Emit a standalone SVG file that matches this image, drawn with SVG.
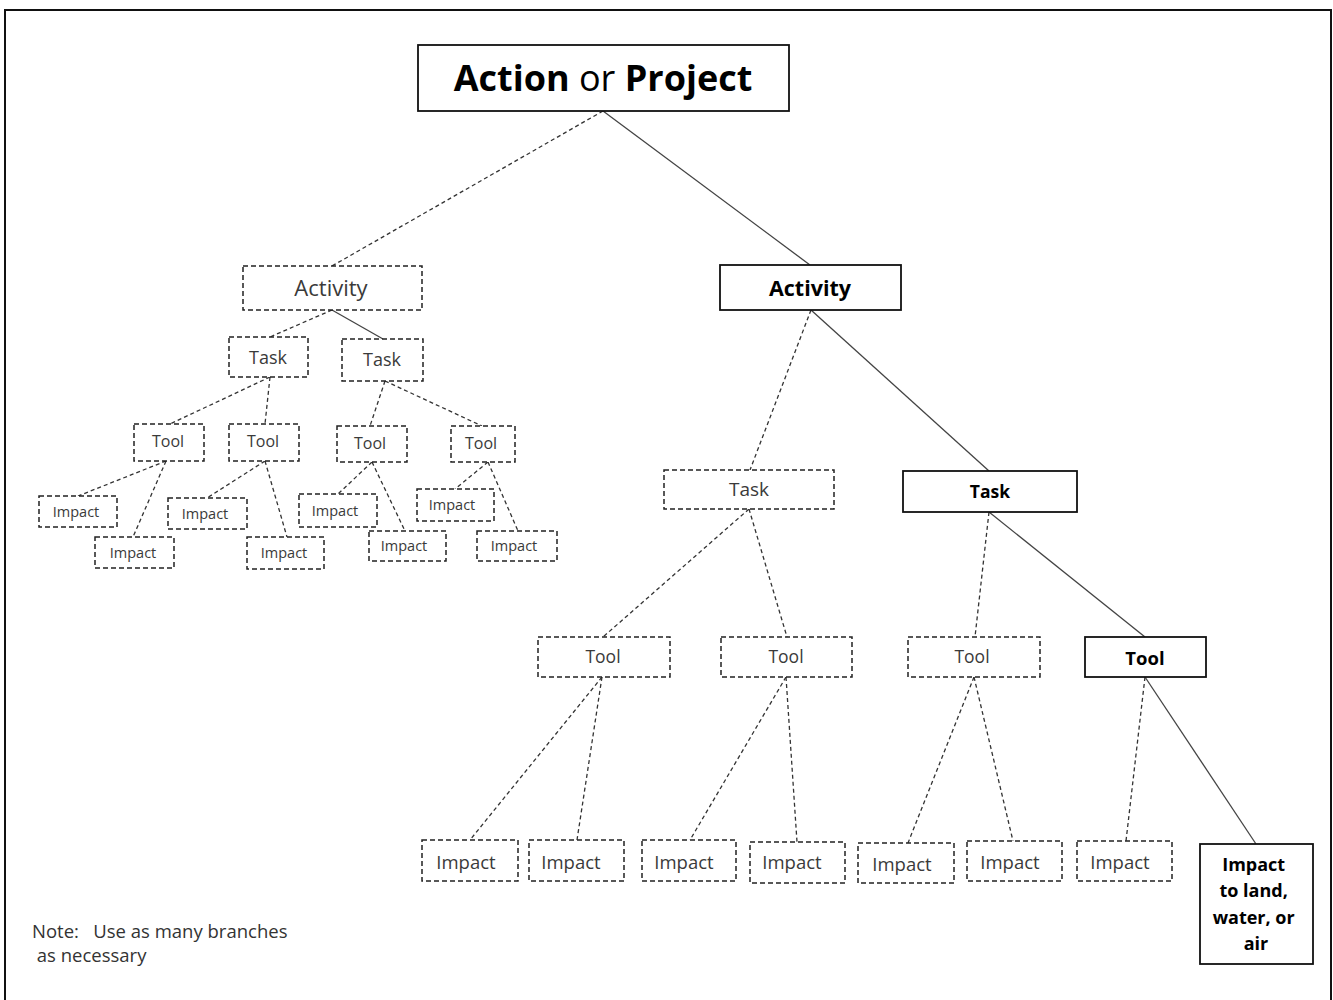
<svg xmlns="http://www.w3.org/2000/svg" width="1333" height="1000" viewBox="0 0 1333 1000">
  <style>
    text { font-family: "Open Sans", "Noto Sans", "Liberation Sans", sans-serif; text-anchor: middle; dominant-baseline: central; }
    .solid { fill: #fff; stroke: #111; stroke-width: 1.8; }
    .dash { fill: #fff; stroke: #222; stroke-width: 1.5; stroke-dasharray: 5 3; }
    .t { fill: #3a3a3a; }
    .b { fill: #000; font-weight: bold; }
    .cd { stroke: #333; stroke-width: 1.3; stroke-dasharray: 4 3; fill: none; }
    .cs { stroke: #444; stroke-width: 1.3; fill: none; }
    .sm { font-size: 14.5px; }
    .md { font-size: 16px; }
    .lg { font-size: 18.5px; }
    .note { fill: #333; font-size: 18.5px; text-anchor: start; dominant-baseline: alphabetic; }
  </style>

  <rect width="1333" height="1000" fill="#fff"/>
  <!-- page frame, open at the bottom -->
  <rect x="5" y="10" width="1326" height="1010" fill="none" stroke="#111" stroke-width="2"/>

  <!-- connectors -->
  <g id="connectors">
    <line class="cd" x1="603" y1="111" x2="332" y2="266"/>
    <line class="cs" x1="603" y1="111" x2="810" y2="265"/>

    <line class="cd" x1="332" y1="310" x2="270" y2="337"/>
    <line class="cs" x1="332" y1="310" x2="383" y2="339"/>
    <line class="cd" x1="270" y1="377" x2="170" y2="424"/>
    <line class="cd" x1="270" y1="377" x2="265" y2="424"/>
    <line class="cd" x1="166" y1="461" x2="78" y2="496"/>
    <line class="cd" x1="166" y1="461" x2="133" y2="537"/>
    <line class="cd" x1="265" y1="461" x2="207" y2="498"/>
    <line class="cd" x1="265" y1="461" x2="287" y2="537"/>
    <line class="cd" x1="385" y1="381" x2="370" y2="426"/>
    <line class="cd" x1="385" y1="381" x2="482" y2="426"/>
    <line class="cd" x1="372" y1="462" x2="338" y2="494"/>
    <line class="cd" x1="372" y1="462" x2="405" y2="531"/>
    <line class="cd" x1="488" y1="462" x2="455" y2="489"/>
    <line class="cd" x1="488" y1="462" x2="518" y2="531"/>

    <line class="cd" x1="811" y1="310" x2="750" y2="470"/>
    <line class="cs" x1="811" y1="310" x2="989" y2="471"/>
    <line class="cd" x1="749" y1="509" x2="603" y2="637"/>
    <line class="cd" x1="749" y1="509" x2="787" y2="637"/>
    <line class="cd" x1="602" y1="677" x2="470" y2="840"/>
    <line class="cd" x1="602" y1="677" x2="577" y2="840"/>
    <line class="cd" x1="786" y1="677" x2="690" y2="840"/>
    <line class="cd" x1="786" y1="677" x2="797" y2="842"/>
    <line class="cd" x1="989" y1="512" x2="975" y2="637"/>
    <line class="cs" x1="989" y1="512" x2="1145" y2="637"/>
    <line class="cd" x1="974" y1="677" x2="908" y2="843"/>
    <line class="cd" x1="974" y1="677" x2="1013" y2="841"/>
    <line class="cd" x1="1145" y1="677" x2="1126" y2="841"/>
    <line class="cs" x1="1145" y1="677" x2="1256" y2="844"/>
  </g>

  <!-- root -->
  <g id="root">
    <rect class="solid" x="418" y="45" width="371" height="66"/>
    <text x="603" y="77" font-size="36" fill="#000"><tspan font-weight="bold">Action</tspan> or <tspan font-weight="bold">Project</tspan></text>
  </g>

  <!-- small example branch -->
  <g id="activity-a">
    <rect class="dash" x="243" y="266" width="179" height="44"/>
    <text class="t" x="331" y="287" font-size="22">Activity</text>
  </g>
  <g id="task-a1">
    <rect class="dash" x="229" y="337" width="79" height="40"/>
    <text class="t" x="268" y="357" font-size="18">Task</text>
  </g>
  <g id="task-a2">
    <rect class="dash" x="342" y="339" width="81" height="42"/>
    <text class="t" x="382" y="359" font-size="18">Task</text>
  </g>
  <g id="tool-a1">
    <rect class="dash" x="134" y="424" width="70" height="37"/>
    <text class="t md" x="168" y="441">Tool</text>
  </g>
  <g id="tool-a2">
    <rect class="dash" x="229" y="424" width="70" height="37"/>
    <text class="t md" x="263" y="441">Tool</text>
  </g>
  <g id="tool-a3">
    <rect class="dash" x="337" y="426" width="70" height="36"/>
    <text class="t md" x="370" y="443">Tool</text>
  </g>
  <g id="tool-a4">
    <rect class="dash" x="451" y="426" width="64" height="36"/>
    <text class="t md" x="481" y="443">Tool</text>
  </g>
  <g id="impact-a1">
    <rect class="dash" x="39" y="496" width="78" height="31"/>
    <text class="t sm" x="76" y="511">Impact</text>
  </g>
  <g id="impact-a2">
    <rect class="dash" x="95" y="537" width="79" height="31"/>
    <text class="t sm" x="133" y="552">Impact</text>
  </g>
  <g id="impact-a3">
    <rect class="dash" x="168" y="498" width="79" height="31"/>
    <text class="t sm" x="205" y="513">Impact</text>
  </g>
  <g id="impact-a4">
    <rect class="dash" x="247" y="537" width="77" height="32"/>
    <text class="t sm" x="284" y="552">Impact</text>
  </g>
  <g id="impact-a5">
    <rect class="dash" x="299" y="494" width="78" height="33"/>
    <text class="t sm" x="335" y="510">Impact</text>
  </g>
  <g id="impact-a6">
    <rect class="dash" x="369" y="531" width="77" height="30"/>
    <text class="t sm" x="404" y="545">Impact</text>
  </g>
  <g id="impact-a7">
    <rect class="dash" x="417" y="489" width="77" height="32"/>
    <text class="t sm" x="452" y="504">Impact</text>
  </g>
  <g id="impact-a8">
    <rect class="dash" x="477" y="531" width="80" height="30"/>
    <text class="t sm" x="514" y="545">Impact</text>
  </g>

  <!-- main branch -->
  <g id="activity-b">
    <rect class="solid" x="720" y="265" width="181" height="45"/>
    <text class="b" x="810" y="287" font-size="21.5">Activity</text>
  </g>
  <g id="task-b1">
    <rect class="dash" x="664" y="470" width="170" height="39"/>
    <text class="t" x="749" y="489" font-size="19">Task</text>
  </g>
  <g id="task-b2">
    <rect class="solid" x="903" y="471" width="174" height="41"/>
    <text class="b" x="990" y="491" font-size="17.5">Task</text>
  </g>
  <g id="tool-b1">
    <rect class="dash" x="538" y="637" width="132" height="40"/>
    <text class="t" x="603" y="656" font-size="17.5">Tool</text>
  </g>
  <g id="tool-b2">
    <rect class="dash" x="721" y="637" width="131" height="40"/>
    <text class="t" x="786" y="656" font-size="17.5">Tool</text>
  </g>
  <g id="tool-b3">
    <rect class="dash" x="908" y="637" width="132" height="40"/>
    <text class="t" x="972" y="656" font-size="17.5">Tool</text>
  </g>
  <g id="tool-b4">
    <rect class="solid" x="1085" y="637" width="121" height="40"/>
    <text class="b" x="1145" y="657" font-size="18.5">Tool</text>
  </g>
  <g id="impact-b1">
    <rect class="dash" x="422" y="840" width="96" height="41"/>
    <text class="t lg" x="466" y="861">Impact</text>
  </g>
  <g id="impact-b2">
    <rect class="dash" x="529" y="840" width="95" height="41"/>
    <text class="t lg" x="571" y="861">Impact</text>
  </g>
  <g id="impact-b3">
    <rect class="dash" x="642" y="840" width="94" height="41"/>
    <text class="t lg" x="684" y="861">Impact</text>
  </g>
  <g id="impact-b4">
    <rect class="dash" x="750" y="842" width="95" height="41"/>
    <text class="t lg" x="792" y="861">Impact</text>
  </g>
  <g id="impact-b5">
    <rect class="dash" x="858" y="843" width="96" height="40"/>
    <text class="t lg" x="902" y="863">Impact</text>
  </g>
  <g id="impact-b6">
    <rect class="dash" x="967" y="841" width="95" height="40"/>
    <text class="t lg" x="1010" y="861">Impact</text>
  </g>
  <g id="impact-b7">
    <rect class="dash" x="1077" y="841" width="95" height="40"/>
    <text class="t lg" x="1120" y="861">Impact</text>
  </g>
  <g id="impact-final">
    <rect class="solid" x="1200" y="844" width="113" height="120"/>
    <text class="b" font-size="18">
      <tspan x="1256" y="864">Impact</tspan>
      <tspan x="1256" y="890">to land,</tspan>
      <tspan x="1256" y="917">water, or</tspan>
      <tspan x="1256" y="943">air</tspan>
    </text>
  </g>

  <!-- note -->
  <g id="note">
    <text class="note" xml:space="preserve"><tspan x="32" y="938">Note:   Use as many branches</tspan><tspan x="32" y="962"> as necessary</tspan></text>
  </g>
</svg>
